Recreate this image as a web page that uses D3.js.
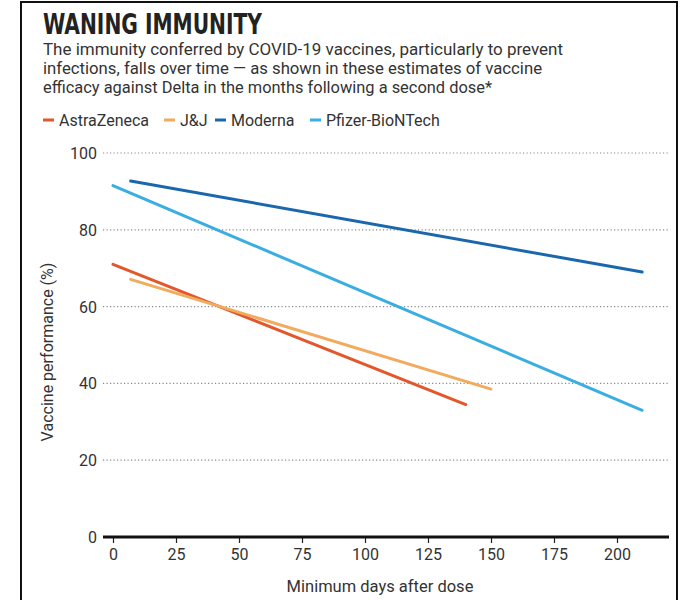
<!DOCTYPE html>
<html>
<head>
<meta charset="utf-8">
<script src="https://cdn.jsdelivr.net/npm/d3@7"></script>
<style>
  body { margin: 0; background: #fff; }
  svg { display: block; font-family: Roboto, "Noto Sans", Arial, sans-serif; }
</style>
</head>
<body>
<div id="chart"></div>
<script>
(() => {
'use strict';

const WIDTH = 680;
const HEIGHT = 600;

// chart values
const vaccines = ['AstraZeneca', 'J&J', 'Moderna', 'Pfizer-BioNTech'];
const colors = ['#e2572b', '#f2aa5e', '#1b67ad', '#3aade2'];
const astraZeneca = [[0, 71], [140, 34.5]];
const jnj = [[7, 67.1], [150, 38.5]];
const moderna = [[7, 92.7], [210, 69]];
const pfizer = [[0, 91.5], [210, 33]];
const seriesValues = [astraZeneca, jnj, moderna, pfizer];
const xTicks = [0, 25, 50, 75, 100, 125, 150, 175, 200];
const yTicks = [0, 20, 40, 60, 80, 100];
const subtitle = [
  'The immunity conferred by COVID-19 vaccines, particularly to prevent',
  'infections, falls over time \u2014 as shown in these estimates of vaccine',
  'efficacy against Delta in the months following a second dose*'
];
const subtitleWidths = [520, 499, 449];

const svg = d3.select('#chart')
  .append('svg')
  .attr('width', WIDTH)
  .attr('height', HEIGHT);

// frame
svg.append('rect')
  .attr('x', 21)
  .attr('y', 2)
  .attr('width', 656)
  .attr('height', 620)
  .attr('fill', 'none')
  .attr('stroke', '#111')
  .attr('stroke-width', 2);

svg.append('text')
  .attr('x', 43)
  .attr('y', 34)
  .attr('textLength', 219)
  .attr('lengthAdjust', 'spacingAndGlyphs')
  .style('font-family', '"DejaVu Sans Condensed", "DejaVu Sans", sans-serif')
  .style('font-stretch', 'condensed')
  .style('font-weight', 'bold')
  .style('font-size', '29px')
  .style('fill', '#222')
  .text('WANING IMMUNITY');

svg.selectAll('.subtitle')
  .data(subtitle)
  .enter()
  .append('text')
    .attr('class', 'subtitle')
    .attr('x', 43)
    .attr('y', (d, i) => 55 + i * 19)
    .attr('textLength', (d, i) => subtitleWidths[i])
    .attr('lengthAdjust', 'spacingAndGlyphs')
    .style('font-size', '16px')
    .style('fill', '#333')
    .text((d) => d);

// legend
const legendX = [43, 164, 215, 310];
const legend = svg.selectAll('.legend')
  .data(vaccines)
  .enter()
  .append('g')
    .attr('class', 'legend')
    .attr('transform', (d, i) => `translate(${legendX[i]}, 120)`);

legend.append('rect')
  .attr('x', 0)
  .attr('y', -1.5)
  .attr('width', 11)
  .attr('height', 3)
  .attr('fill', (d, i) => colors[i]);

legend.append('text')
  .attr('x', 16)
  .attr('y', 6)
  .style('font-size', '16px')
  .style('fill', '#333')
  .text((d) => d);

// scales
const xScale = d3.scaleLinear().domain([0, 200]).range([113, 617]);
const yScale = d3.scaleLinear().domain([0, 100]).range([537, 153]);

// gridlines
svg.append('g')
  .selectAll('line')
  .data(yTicks.filter((d) => d > 0))
  .enter()
  .append('line')
    .attr('x1', 103)
    .attr('x2', 669)
    .attr('y1', (d) => yScale(d))
    .attr('y2', (d) => yScale(d))
    .attr('stroke', '#8a8a8a')
    .attr('stroke-width', 1.2)
    .attr('stroke-dasharray', '1.2,2.3');

// y labels
svg.append('g')
  .selectAll('text')
  .data(yTicks)
  .enter()
  .append('text')
    .attr('x', 97)
    .attr('y', (d) => yScale(d) + 6)
    .attr('text-anchor', 'end')
    .style('font-size', '16px')
    .style('fill', '#333')
    .text((d) => d);

// x axis
const xAxis = d3.axisBottom(xScale)
  .tickValues(xTicks)
  .tickSize(6)
  .tickPadding(6)
  .tickSizeOuter(0);

const xg = svg.append('g')
  .attr('transform', `translate(0, ${yScale(0)})`)
  .call(xAxis);
xg.select('.domain').remove();
xg.selectAll('.tick line').attr('stroke', '#222').attr('stroke-width', 1.2);
xg.selectAll('.tick text')
  .style('font-size', '16px')
  .style('font-family', 'Roboto, "Noto Sans", Arial, sans-serif')
  .style('fill', '#333');

svg.append('line')
  .attr('x1', 103)
  .attr('x2', 669)
  .attr('y1', yScale(0))
  .attr('y2', yScale(0))
  .attr('stroke', '#111')
  .attr('stroke-width', 3);

svg.append('text')
  .attr('x', 380)
  .attr('y', 592)
  .attr('text-anchor', 'middle')
  .style('font-size', '16.5px')
  .style('fill', '#333')
  .text('Minimum days after dose');

svg.append('text')
  .attr('transform', `translate(53, ${352}) rotate(-90)`)
  .attr('text-anchor', 'middle')
  .style('font-size', '16px')
  .style('fill', '#333')
  .text('Vaccine performance (%)');

// lines
const line = d3.line()
  .x((d) => xScale(d[0]))
  .y((d) => yScale(d[1]));

svg.append('g')
  .selectAll('path')
  .data(seriesValues)
  .enter()
  .append('path')
    .attr('d', line)
    .attr('fill', 'none')
    .attr('stroke', (d, i) => colors[i])
    .attr('stroke-width', 3)
    .attr('stroke-linecap', 'round');

})();
</script>
</body>
</html>
